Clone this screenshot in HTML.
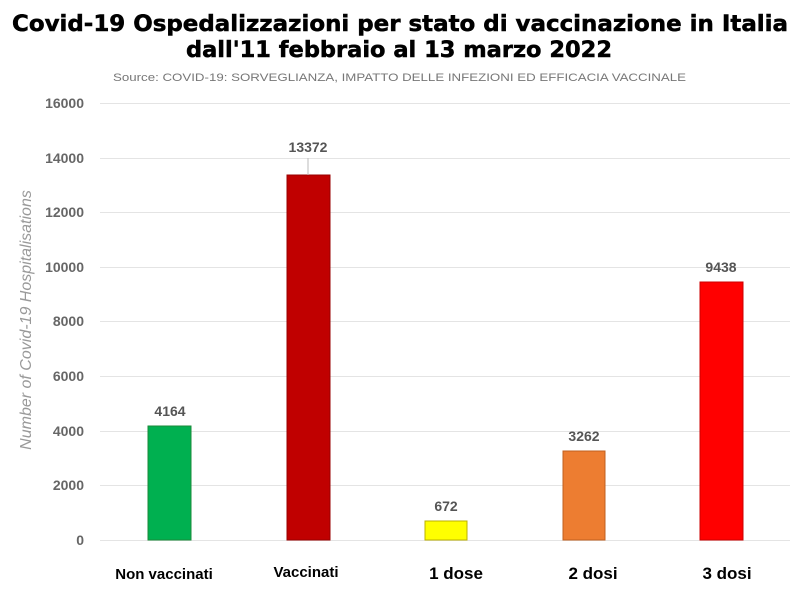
<!DOCTYPE html>
<html><head><meta charset="utf-8"><style>
html,body{margin:0;padding:0;background:#fff;width:800px;height:613px;overflow:hidden}
</style></head><body>
<svg width="800" height="613" xmlns="http://www.w3.org/2000/svg" font-family="Liberation Sans, sans-serif">
<rect width="800" height="613" fill="#fff"/>
<text x="12" y="31" font-family="DejaVu Sans, sans-serif" textLength="776" lengthAdjust="spacingAndGlyphs" font-size="22" font-weight="bold" fill="#000" stroke="#000" stroke-width="0.5">Covid-19 Ospedalizzazioni per stato di vaccinazione in Italia</text>
<text x="186" y="57" font-family="DejaVu Sans, sans-serif" textLength="426" lengthAdjust="spacingAndGlyphs" font-size="22" font-weight="bold" fill="#000" stroke="#000" stroke-width="0.5">dall'11 febbraio al 13 marzo 2022</text>
<text x="113" y="81" textLength="573" lengthAdjust="spacingAndGlyphs" font-size="11" fill="#777">Source: COVID-19: SORVEGLIANZA, IMPATTO DELLE INFEZIONI ED EFFICACIA VACCINALE</text>
<g stroke="#e4e4e4" stroke-width="1">
<line x1="100" x2="790" y1="103.5" y2="103.5"/><line x1="100" x2="790" y1="158.5" y2="158.5"/>
<line x1="100" x2="790" y1="212.5" y2="212.5"/><line x1="100" x2="790" y1="267.5" y2="267.5"/>
<line x1="100" x2="790" y1="321.5" y2="321.5"/><line x1="100" x2="790" y1="376.5" y2="376.5"/>
<line x1="100" x2="790" y1="431.5" y2="431.5"/><line x1="100" x2="790" y1="485.5" y2="485.5"/>
<line x1="100" x2="790" y1="540.5" y2="540.5"/>
</g>
<g font-size="14" font-weight="bold" fill="#666" text-anchor="end">
<text x="84" y="108">16000</text><text x="84" y="163">14000</text><text x="84" y="217">12000</text>
<text x="84" y="272">10000</text><text x="84" y="326">8000</text><text x="84" y="381">6000</text>
<text x="84" y="436">4000</text><text x="84" y="490">2000</text><text x="84" y="545">0</text>
</g>
<text transform="translate(31,320) rotate(-90)" text-anchor="middle" font-size="16" font-style="italic" fill="#999">Number of Covid-19 Hospitalisations</text>
<rect x="148" y="426" width="43" height="114" fill="#00b050" stroke="#1a8a3a"/>
<rect x="287" y="175" width="43" height="365" fill="#c00000" stroke="#900"/>
<rect x="425" y="521" width="42" height="19" fill="#ffff00" stroke="#bbb000"/>
<rect x="563" y="451" width="42" height="89" fill="#ed7d31" stroke="#c06020"/>
<rect x="700" y="282" width="43" height="258" fill="#ff0000" stroke="#c00"/>
<line x1="308" x2="308" y1="158" y2="175" stroke="#bbb"/>
<g font-size="14" font-weight="bold" fill="#555" text-anchor="middle">
<text x="170" y="416">4164</text><text x="308" y="152">13372</text><text x="446" y="511">672</text>
<text x="584" y="441">3262</text><text x="721" y="272">9438</text>
</g>
<g font-size="15" font-weight="bold" fill="#000" text-anchor="middle">
<text x="164" y="579">Non vaccinati</text><text x="306" y="577">Vaccinati</text>
<text x="456" y="579" font-size="17">1 dose</text><text x="593" y="579" font-size="17">2 dosi</text><text x="727" y="579" font-size="17">3 dosi</text>
</g>
</svg>
</body></html>
